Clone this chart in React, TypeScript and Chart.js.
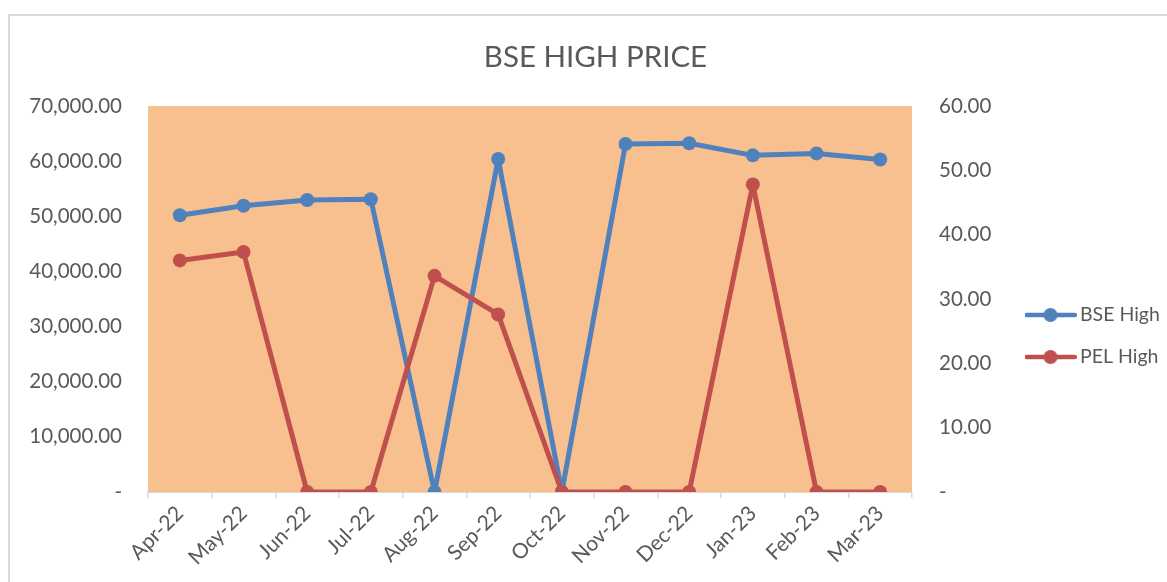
import { useEffect, useRef } from "react";
import { Chart, registerables } from "chart.js";

Chart.register(...registerables);

const months = ["Apr-22", "May-22", "Jun-22", "Jul-22", "Aug-22", "Sep-22", "Oct-22", "Nov-22", "Dec-22", "Jan-23", "Feb-23", "Mar-23"];
const bseHigh = [50200, 51900, 52950, 53100, 0, 60400, 0, 63100, 63250, 61050, 61400, 60300];
const pelHigh = [36.0, 37.3, 0, 0, 33.6, 27.6, 0, 0, 0, 47.8, 0, 0];
const seriesNames = ["BSE High", "PEL High"];
const seriesColors = ["#4F81BD", "#C0504D"];
const leftAxis = { min: 0, max: 70000, step: 10000 };
const rightAxis = { min: 0, max: 60, step: 10 };

const FONT = "Lato";
const TEXT = "#595959";

function fmt(v: number) {
  if (v === 0) return "-";
  return v.toLocaleString("en-US", { minimumFractionDigits: 2, maximumFractionDigits: 2 });
}

function legendImage(color: string) {
  const c = document.createElement("canvas");
  c.width = 52;
  c.height = 16;
  const ctx = c.getContext("2d")!;
  ctx.strokeStyle = color;
  ctx.lineWidth = 4.5;
  ctx.lineCap = "round";
  ctx.beginPath();
  ctx.moveTo(2, 8);
  ctx.lineTo(50, 8);
  ctx.stroke();
  ctx.fillStyle = color;
  ctx.beginPath();
  ctx.arc(26, 8, 7, 0, Math.PI * 2);
  ctx.fill();
  return c;
}

const plotBg = {
  id: "plotBg",
  beforeDatasetsDraw(chart: any) {
    const { ctx, chartArea } = chart;
    ctx.save();
    ctx.fillStyle = "#F8C08F";
    ctx.fillRect(chartArea.left, chartArea.top, chartArea.right - chartArea.left, chartArea.bottom - chartArea.top);
    ctx.restore();
  },
};

function lineDataset(i: number, data: number[], axis: string, order: number) {
  return {
    label: seriesNames[i],
    data,
    yAxisID: axis,
    borderColor: seriesColors[i],
    backgroundColor: seriesColors[i],
    pointBackgroundColor: seriesColors[i],
    pointBorderColor: seriesColors[i],
    borderWidth: 5,
    borderJoinStyle: "round",
    borderCapStyle: "round",
    pointRadius: 7,
    pointBorderWidth: 0,
    tension: 0,
    order,
  };
}

export default function App() {
  const ref = useRef<HTMLCanvasElement>(null);

  useEffect(() => {
    if (!ref.current) return;
    const images = seriesColors.map(legendImage);
    const chart = new Chart(ref.current, {
      type: "line",
      data: {
        labels: months,
        datasets: [lineDataset(0, bseHigh, "y", 2), lineDataset(1, pelHigh, "y1", 1)],
      },
      options: {
        responsive: false,
        animation: false,
        devicePixelRatio: 1,
        layout: { padding: { left: 14, right: 0, top: 0, bottom: 0 } },
        font: { family: FONT },
        plugins: {
          title: {
            display: true,
            text: "BSE HIGH PRICE",
            color: TEXT,
            font: { family: FONT, size: 29.5, weight: "normal" },
            padding: { top: 23.3, bottom: 31.3 },
          },
          legend: {
            display: true,
            position: "right",
            fullSize: false,
            maxWidth: 158.75,
            title: { display: true, text: " ", font: { size: 1 }, padding: { top: 0, bottom: 72.8 } },
            labels: {
              usePointStyle: true,
              pointStyleWidth: 39.5,
              padding: 22.5,
              color: TEXT,
              font: { family: FONT, size: 19.5 },
              generateLabels: (c: any) =>
                c.data.datasets.map((ds: any, i: number) => ({
                  text: ds.label,
                  pointStyle: images[i],
                  fillStyle: seriesColors[i],
                  strokeStyle: seriesColors[i],
                  lineWidth: 0,
                  hidden: false,
                  datasetIndex: i,
                  fontColor: TEXT,
                })),
            },
          },
          tooltip: { enabled: false },
        },
        scales: {
          x: {
            type: "category",
            offset: true,
            afterFit: (s: any) => {
              s.height = 90;
            },
            grid: {
              display: true,
              drawOnChartArea: false,
              drawTicks: true,
              tickLength: 6,
              color: "#D9D9D9",
              lineWidth: 1.5,
              offset: true,
            },
            border: { display: true, color: "#D9D9D9", width: 2 },
            ticks: {
              autoSkip: false,
              minRotation: 45,
              maxRotation: 45,
              padding: 3,
              color: TEXT,
              font: { family: FONT, size: 21 },
            },
          },
          y: {
            type: "linear",
            position: "left",
            min: leftAxis.min,
            max: leftAxis.max,
            afterFit: (s: any) => {
              s.width = 124;
            },
            grid: { display: false, drawTicks: false },
            border: { display: false },
            ticks: {
              stepSize: leftAxis.step,
              padding: 26,
              color: TEXT,
              font: { family: FONT, size: 20.5 },
              callback: (v: any) => fmt(Number(v)),
            },
          },
          y1: {
            type: "linear",
            position: "right",
            min: rightAxis.min,
            max: rightAxis.max,
            afterFit: (s: any) => {
              s.width = 96.25;
            },
            grid: { display: false, drawTicks: false },
            border: { display: false },
            ticks: {
              stepSize: rightAxis.step,
              padding: 27,
              color: TEXT,
              font: { family: FONT, size: 20.5 },
              callback: (v: any) => fmt(Number(v)),
            },
          },
        },
      },
      plugins: [plotBg],
    } as any);
    return () => chart.destroy();
  }, []);

  return (
    <div
      style={{
        position: "absolute",
        left: 8,
        top: 14,
        width: 1159,
        height: 568,
        borderTop: "2px solid #D9D9D9",
        borderLeft: "2px solid #D9D9D9",
        boxSizing: "border-box",
        background: "#fff",
      }}
    >
      <canvas ref={ref} width={1157} height={566} style={{ display: "block", width: 1157, height: 566 }} />
    </div>
  );
}
